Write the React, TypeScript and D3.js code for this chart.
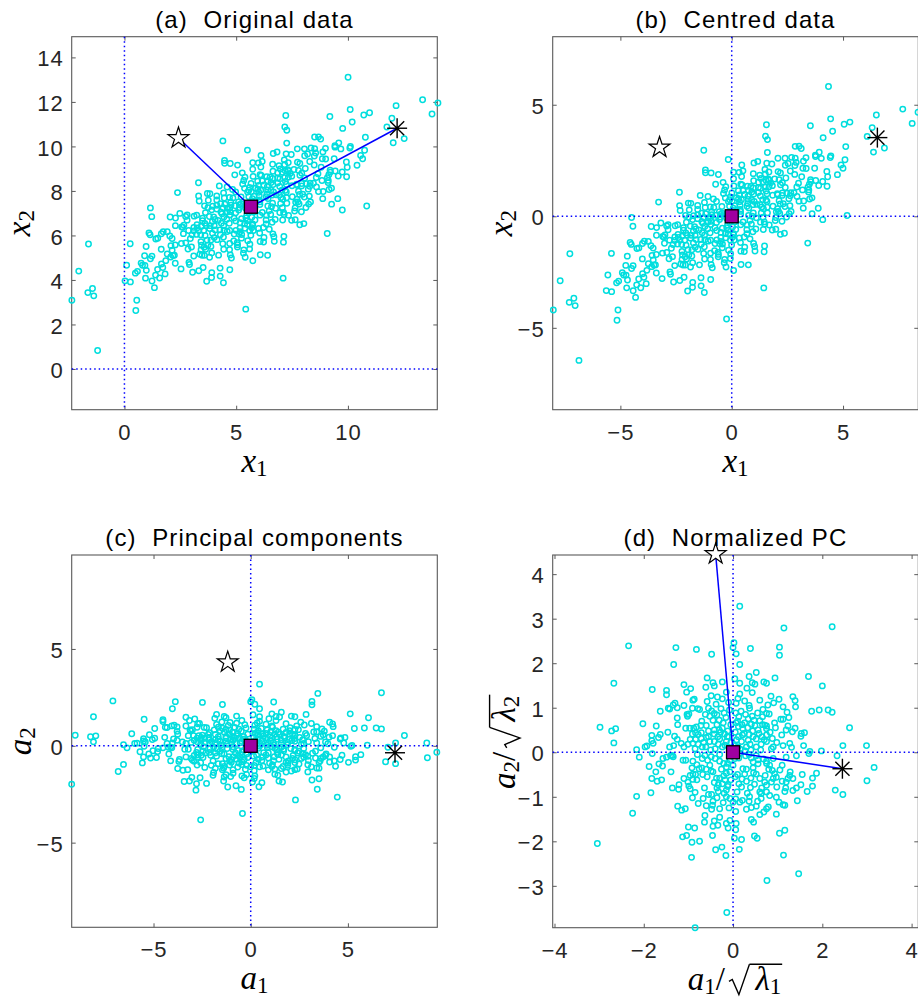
import React, { useEffect, useRef } from 'react';
import * as d3 from 'd3';

const W = 918;
const H = 999;

// PCA quantities
const MEAN: [number, number] = [5.66, 7.29];
const THETA_DEG = 31.1; // rotation of the first principal axis
const SQRT_LAMBDA: [number, number] = [3.03, 0.97];

// Observations read in normalized principal-component coordinates (panel d)
const pcUpperRight: [number, number][] = [
  [0.15,3.28],[1.14,2.79],[2.22,2.82],[0.02,2.46],[0.0,2.35],[0.07,2.21],[0.39,2.33],[1.04,2.36],[1.04,2.18],[0.15,1.97],
  [1.69,1.70],[2.0,1.49],[0.04,1.65],[0.36,1.70],[0.52,1.79],[0.43,1.56],[0.49,1.53],[0.69,1.58],[0.75,1.55],[0.94,1.67],
  [0.15,1.55],[0.31,1.44],[0.43,1.34],[0.15,1.31],[0.11,1.21],[0.26,1.15],[0.07,1.10],[0.36,1.05],[0.37,0.99],[0.60,1.17],
  [0.85,1.26],[0.78,1.06],[0.91,1.11],[1.03,1.19],[1.34,1.25],[1.39,1.16],[1.40,1.02],[1.12,1.02],[1.21,0.90],[0.67,0.96],
  [0.75,0.87],[0.81,0.86],[0.66,0.80],[0.60,0.71],[0.43,0.81],[0.34,0.75],[0.13,0.80],[0.07,0.66],[0.26,0.66],[0.41,0.63],
  [1.76,0.92],[1.93,0.95],[2.13,0.95],[2.22,0.90],[2.61,0.55],[1.07,0.74],[1.12,0.74],[1.25,0.78],[0.93,0.66],[1.23,0.59],
  [1.39,0.54],[1.19,0.50],[1.33,0.46],[1.09,0.39],[1.12,0.15],[1.53,0.42],[1.60,0.44],[1.52,0.36],[1.58,0.15],[1.27,0.20],
  [1.31,0.11],[0.75,0.59],[0.71,0.61],[0.75,0.53],[0.49,0.60],[0.56,0.50],[0.75,0.39],[0.88,0.31],[0.90,0.12],[0.75,0.24],
  [0.63,0.18],[0.45,0.35],[0.34,0.27],[0.21,0.39],[0.11,0.12],[0.52,0.12],[1.98,0.03],[2.46,0.15],[2.99,0.15],[1.72,0.02],
  [0.22,0.53],[0.30,0.12],[0.19,0.24],[0.05,0.45],[0.12,0.58],[0.18,0.92],[0.25,0.42],[0.28,0.85],[0.33,0.55],[0.38,0.18],
  [0.47,0.72],[0.52,0.30],[0.55,0.88],[0.58,0.42],[0.62,0.05],[0.66,0.62],[0.70,0.28],[0.83,0.45],[0.86,0.08],[0.95,0.55],
  [0.98,0.22],[0.08,0.28],[0.16,0.07],[0.27,0.03],[0.44,0.48],[0.06,0.88],[0.12,0.35],[0.04,0.15],[0.20,0.62],[0.36,0.40],
  [0.10,0.70],[0.65,0.35],[0.40,0.05],
];

const pcUpperLeft: [number, number][] = [
  [-2.34,2.39],[-1.28,2.35],[-0.82,2.31],[-0.48,2.20],[-1.33,1.97],[-2.67,1.55],[-1.81,1.41],[-1.49,1.39],[-1.49,1.29],[-1.10,1.52],
  [-1.04,1.35],[-0.95,1.43],[-0.58,1.67],[-0.61,1.46],[-0.45,1.56],[-0.42,1.49],[-0.24,1.58],[-0.49,1.27],[-0.35,1.24],[-0.24,1.20],
  [-2.98,0.56],[-2.72,0.48],[-2.63,0.53],[-2.67,0.21],[-2.02,0.64],[-1.72,0.59],[-1.82,0.38],[-1.63,0.40],[-1.67,0.33],[-1.82,0.26],
  [-1.79,0.20],[-1.93,0.14],[-1.97,0.12],[-2.16,0.06],[-1.45,0.99],[-1.42,0.97],[-1.34,1.06],[-1.30,1.10],[-1.25,1.00],[-1.63,0.92],
  [-1.25,0.77],[-1.24,0.62],[-1.46,0.45],[-1.31,0.36],[-1.25,0.29],[-1.16,0.20],[-1.42,0.12],[-1.33,0.15],[-1.10,1.05],[-1.03,0.85],
  [-1.02,0.81],[-0.99,0.86],[-0.91,0.99],[-0.90,1.17],[-0.87,1.19],[-0.79,0.98],[-0.75,0.96],[-0.58,1.14],[-0.55,0.99],[-0.48,0.93],
  [-0.42,0.87],[-0.36,0.84],[-0.31,0.72],[-0.52,0.81],[-0.16,0.78],[-1.06,0.54],[-0.97,0.54],[-0.88,0.54],[-0.82,0.57],[-0.72,0.60],
  [-0.60,0.60],[-0.91,0.41],[-0.84,0.44],[-0.71,0.44],[-0.96,0.29],[-0.84,0.29],[-0.71,0.31],[-0.55,0.35],[-0.90,0.20],[-0.78,0.18],
  [-0.69,0.12],[-0.42,0.50],[-0.31,0.50],[-0.24,0.54],[-0.42,0.41],[-0.34,0.35],[-0.19,0.41],[-0.13,0.35],[-0.42,0.24],[-0.33,0.18],
  [-0.15,0.24],[-0.24,0.12],[-0.60,0.33],[-0.52,0.24],[-0.61,0.12],[-1.10,0.12],[-1.01,0.18],[-0.05,0.62],[-0.08,0.95],[-0.12,0.48],
  [-0.18,0.16],[-0.22,0.66],[-0.27,0.98],[-0.30,0.30],[-0.36,0.62],[-0.40,0.08],[-0.45,0.72],[-0.55,0.48],[-0.62,0.85],[-0.66,0.22],
  [-0.70,0.70],[-0.78,0.40],[-0.85,0.08],[-0.05,0.22],[-0.10,1.12],[-0.20,0.88],[-0.08,0.05],[-0.28,0.45],[-0.15,1.35],[-0.38,1.08],
  [-0.10,0.35],[-0.50,0.05],
];

const pcLowerLeft: [number, number][] = [
  [-2.10,-0.11],[-1.81,-0.03],[-1.88,-0.32],[-1.66,-0.26],[-1.57,-0.14],[-1.49,-0.11],[-1.40,-0.08],[-1.36,-0.07],[-1.34,-0.10],[-1.58,-0.31],
  [-1.73,-0.44],[-1.82,-0.59],[-1.70,-0.65],[-1.60,-0.62],[-1.39,-0.44],[-1.36,-0.80],[-1.22,-0.83],[-1.21,-0.73],[-2.16,-0.99],[-1.84,-0.91],
  [-2.25,-1.37],[-3.04,-2.05],[-1.24,-1.21],[-1.15,-1.30],[-1.07,-1.27],[-1.0,-1.68],[-0.86,-1.70],[-1.13,-1.90],[-1.04,-1.87],[-0.92,-2.02],
  [-0.75,-2.0],[-0.93,-2.36],[-0.39,-2.19],[-0.25,-2.13],[-0.16,-2.32],[-0.63,-1.42],[-0.64,-1.57],[-0.45,-1.66],[-0.34,-1.64],[-0.46,-1.87],
  [-0.42,-1.54],[-0.30,-1.46],[-0.48,-1.28],[-0.46,-1.19],[-0.30,-1.27],[-0.09,-1.25],[-0.15,-1.60],[-0.07,-1.53],[-0.11,-1.70],[-0.22,-1.13],
  [-0.67,-1.04],[-0.55,-0.95],[-0.91,-1.02],[-0.36,-1.02],[-0.15,-1.0],[-0.33,-0.88],[-0.36,-0.80],[-0.33,-0.73],[-0.24,-0.71],[-0.12,-0.77],
  [-0.99,-0.76],[-1.01,-0.67],[-0.96,-0.82],[-1.10,-0.59],[-0.90,-0.61],[-0.81,-0.62],[-0.96,-0.52],[-0.90,-0.49],[-0.84,-0.50],[-1.12,-0.18],
  [-1.06,-0.18],[-0.90,-0.20],[-0.81,-0.28],[-0.76,-0.37],[-0.70,-0.35],[-0.60,-0.38],[-0.52,-0.29],[-0.49,-0.42],[-0.45,-0.44],[-0.69,-0.14],
  [-0.63,-0.07],[-0.57,-0.18],[-0.49,-0.10],[-0.40,-0.14],[-0.30,-0.20],[-0.21,-0.25],[-0.15,-0.33],[-0.07,-0.18],[-0.37,-0.58],[-0.30,-0.58],
  [-0.21,-0.53],[-0.15,-0.47],[-0.07,-0.44],[-0.11,-0.73],[-0.07,-1.04],[-0.85,-3.94],[-0.14,-3.60],[-0.05,-0.62],[-0.20,-0.92],[-0.26,-0.38],
  [-0.30,-0.05],[-0.42,-0.68],[-0.48,-0.95],[-0.58,-0.55],[-0.64,-0.80],[-0.80,-0.05],[-0.85,-0.90],[-0.92,-0.35],[-0.12,-0.25],[-0.45,-1.10],
  [-0.60,-1.20],[-0.78,-1.15],[-0.15,-0.85],[-0.05,-0.08],[-0.18,-0.62],[-0.68,-0.50],
];

const pcLowerRight: [number, number][] = [
  [2.33,-0.08],[3.16,-0.34],[3.0,-0.64],[2.29,-0.85],[2.46,-0.95],[1.87,-0.47],[1.78,-0.58],[1.78,-0.76],[1.66,-0.88],[1.52,-0.73],
  [1.55,-0.50],[1.34,-0.59],[1.28,-0.44],[1.27,-0.52],[1.34,-0.86],[1.44,-1.09],[1.16,-1.19],[1.12,-1.18],[0.97,-1.39],[1.04,-1.82],
  [1.16,-1.75],[1.13,-2.31],[1.47,-2.73],[0.76,-2.88],[0.48,-1.88],[0.54,-1.93],[0.41,-1.51],[0.46,-1.57],[0.14,-2.18],[0.19,-1.96],
  [0.03,-1.93],[0.06,-1.74],[0.07,-1.60],[0.6,-1.40],[0.69,-1.34],[0.75,-1.27],[0.79,-1.23],[0.52,-1.21],[0.41,-1.24],[0.30,-1.28],
  [0.36,-1.10],[0.37,-1.0],[0.21,-1.08],[0.15,-1.12],[0.06,-1.33],[0.63,-1.04],[0.63,-0.93],[0.60,-0.89],[0.75,-0.89],[0.82,-0.97],
  [0.97,-1.01],[1.03,-1.12],[1.18,-0.80],[1.16,-0.88],[1.42,-0.80],[0.09,-0.89],[0.13,-0.71],[0.19,-0.78],[0.39,-0.79],[0.60,-0.59],
  [0.71,-0.67],[0.75,-0.74],[0.86,-0.67],[0.90,-0.59],[0.97,-0.56],[1.10,-0.65],[1.19,-0.67],[1.23,-0.59],[0.22,-0.37],[0.30,-0.38],
  [0.26,-0.49],[0.46,-0.46],[0.52,-0.49],[0.45,-0.35],[0.56,-0.26],[0.45,-0.22],[0.75,-0.25],[0.82,-0.29],[0.88,-0.41],[0.93,-0.48],
  [1.10,-0.29],[1.19,-0.11],[1.42,-0.08],[0.04,-0.14],[0.13,-0.13],[0.28,-0.08],[0.41,-0.13],[0.56,-0.17],[0.75,-0.20],[0.90,-0.14],
  [1.70,-0.03],[0.0,-0.29],[0.0,-1.12],[0.10,-0.50],[0.15,-0.02],[0.20,-0.60],[0.32,-0.92],[0.36,-0.05],[0.40,-0.58],[0.48,-0.72],
  [0.52,-0.08],[0.64,-0.80],[0.68,-0.15],[0.72,-0.52],[0.80,-0.38],[0.98,-0.78],[0.06,-1.05],[0.55,-1.10],[1.05,-0.40],[0.05,-0.55],
  [0.30,-0.65],
];

const normalizedPC: [number, number][] = [...pcUpperRight, ...pcUpperLeft, ...pcLowerLeft, ...pcLowerRight];

// Highlighted observations (normalized PC coordinates)
const STAR_PT: [number, number] = [-0.39, 4.45];
const ASTERISK_PT: [number, number] = [2.45, -0.37];

// Transforms between the coordinate systems of the four panels
const TH = (THETA_DEG * Math.PI) / 180;
const toPC = (p: [number, number]): [number, number] => [p[0] * SQRT_LAMBDA[0], p[1] * SQRT_LAMBDA[1]];
const toCentred = (p: [number, number]): [number, number] => {
  const c = toPC(p);
  return [Math.cos(TH) * c[0] - Math.sin(TH) * c[1], Math.sin(TH) * c[0] + Math.cos(TH) * c[1]];
};
const toOriginal = (p: [number, number]): [number, number] => {
  const b = toCentred(p);
  return [b[0] + MEAN[0], b[1] + MEAN[1]];
};
const toNorm = (p: [number, number]): [number, number] => p;

type Piece = { t: string; italic?: boolean; sub?: boolean } | { sqrt: Piece[] };

const X1: Piece[] = [{ t: 'x', italic: true }, { t: '1', sub: true }];
const X2: Piece[] = [{ t: 'x', italic: true }, { t: '2', sub: true }];
const A1: Piece[] = [{ t: 'a', italic: true }, { t: '1', sub: true }];
const A2: Piece[] = [{ t: 'a', italic: true }, { t: '2', sub: true }];
const A1N: Piece[] = [...A1, { t: '/' }, { sqrt: [{ t: 'λ', italic: true }, { t: '1', sub: true }] }];
const A2N: Piece[] = [...A2, { t: '/' }, { sqrt: [{ t: 'λ', italic: true }, { t: '2', sub: true }] }];

const PANELS = [
  {
    title: '(a)  Original data', left: 71.7, right: 437.3, top: 36.7, bottom: 409.7,
    xDom: [-2.36, 14.0], yDom: [-1.83, 14.93], xTicks: [0, 5, 10], yTicks: [0, 2, 4, 6, 8, 10, 12, 14],
    map: toOriginal, centre: MEAN, lines: true, xLab: X1, yLab: X2, yLabX: 30,
  },
  {
    title: '(b)  Centred data', left: 552.7, right: 918.3, top: 36.7, bottom: 409.7,
    xDom: [-8.04, 8.38], yDom: [-8.67, 8.05], xTicks: [-5, 0, 5], yTicks: [-5, 0, 5],
    map: toCentred, centre: [0, 0], lines: false, xLab: X1, yLab: X2, yLabX: 512,
  },
  {
    title: '(c)  Principal components', left: 71.7, right: 437.3, top: 555, bottom: 927.3,
    xDom: [-9.21, 9.6], yDom: [-9.37, 9.85], xTicks: [-5, 0, 5], yTicks: [-5, 0, 5],
    map: toPC, centre: [0, 0], lines: false, xLab: A1, yLab: A2, yLabX: 31,
  },
  {
    title: '(d)  Normalized PC', left: 552.7, right: 918.3, top: 555, bottom: 927.7,
    xDom: [-4.04, 4.15], yDom: [-3.94, 4.43], xTicks: [-4, -2, 0, 2, 4], yTicks: [-3, -2, -1, 0, 1, 2, 3, 4],
    map: toNorm, centre: [0, 0], lines: true, xLab: A1N, yLab: A2N, yLabX: 515,
  },
];

const AXIS = '#262626';
const BOX = '#5a5a5a';
const CYAN = '#00DEDE';
const BLUE = '#0000FF';
const SANS = '"Liberation Sans", Arial, Helvetica, sans-serif';
const SERIF = '"Liberation Serif", "Times New Roman", serif';
const fmt = (v: number) => (v < 0 ? '\u2212' + Math.abs(v) : String(v));

function drawMath(parent: any, pieces: Piece[], x: number, y: number, rotate: boolean) {
  const g = parent.append('g').attr('transform', `translate(${x},${y})${rotate ? ' rotate(-90)' : ''}`);
  const inner = g.append('g');
  const EM = 33, SUB = 23, SUBDY = 4;
  let cur = 0;
  const put = (p: Piece) => {
    if ('sqrt' in p) {
      const x0 = cur + 2;
      const topY = -0.77 * EM;
      inner.append('path')
        .attr('d', `M${x0},${-0.25 * EM} L${x0 + 0.1 * EM},${-0.31 * EM} L${x0 + 0.3 * EM},${0.15 * EM} L${x0 + 0.62 * EM},${topY}`)
        .attr('fill', 'none').attr('stroke', '#000').attr('stroke-width', 1.4).attr('stroke-linejoin', 'miter');
      cur = x0 + 0.8 * EM;
      p.sqrt.forEach(put);
      inner.append('line').attr('x1', x0 + 0.62 * EM).attr('x2', cur + 1).attr('y1', topY).attr('y2', topY)
        .attr('stroke', '#000').attr('stroke-width', 1.4);
      cur += 2;
    } else {
      const tx = inner.append('text')
        .attr('x', cur).attr('y', p.sub ? SUBDY : 0)
        .style('font-family', SERIF).style('font-size', `${p.sub ? SUB : EM}px`)
        .style('font-style', p.italic ? 'italic' : 'normal')
        .attr('fill', '#000').text(p.t);
      cur += (tx.node() as SVGTextElement).getComputedTextLength() + (p.t === '/' ? 2 : 0);
    }
  };
  pieces.forEach(put);
  inner.attr('transform', `translate(${-cur / 2},0)`);
}

function drawPanel(svg: any, p: any) {
  const x = d3.scaleLinear().domain(p.xDom).range([p.left, p.right]);
  const y = d3.scaleLinear().domain(p.yDom).range([p.bottom, p.top]);
  const g = svg.append('g');

  // axes (box on, ticks pointing inwards)
  const styleAxis = (ax: any) => {
    ax.select('.domain').remove();
    ax.selectAll('.tick line').attr('stroke', BOX).attr('stroke-width', 1);
    ax.selectAll('.tick text').attr('fill', AXIS).style('font-family', SANS).style('font-size', '22px').style('letter-spacing', '1px');
  };
  const bottom = g.append('g').attr('transform', `translate(0,${p.bottom})`)
    .call(d3.axisBottom(x).tickValues(p.xTicks).tickSize(-4).tickPadding(14.5).tickFormat((v: any) => fmt(v)));
  styleAxis(bottom);
  const top = g.append('g').attr('transform', `translate(0,${p.top})`)
    .call(d3.axisTop(x).tickValues(p.xTicks).tickSize(-4).tickFormat(() => ''));
  styleAxis(top);
  const left = g.append('g').attr('transform', `translate(${p.left},0)`)
    .call(d3.axisLeft(y).tickValues(p.yTicks).tickSize(-4).tickPadding(8).tickFormat((v: any) => fmt(v)));
  styleAxis(left);
  left.selectAll('.tick text').attr('dy', '0.39em');
  const right = g.append('g').attr('transform', `translate(${p.right},0)`)
    .call(d3.axisRight(y).tickValues(p.yTicks).tickSize(-4).tickFormat(() => ''));
  styleAxis(right);

  g.append('rect').attr('x', p.left).attr('y', p.top).attr('width', p.right - p.left).attr('height', p.bottom - p.top)
    .attr('fill', 'none').attr('stroke', BOX).attr('stroke-width', 1.1);

  // data
  const pts = normalizedPC.map(p.map);
  g.append('g').selectAll('circle').data(pts).join('circle')
    .attr('cx', (d: any) => x(d[0])).attr('cy', (d: any) => y(d[1])).attr('r', 2.7)
    .attr('fill', 'none').attr('stroke', CYAN).attr('stroke-width', 1.5);

  // zero lines
  g.append('line').attr('x1', x(0)).attr('x2', x(0)).attr('y1', p.top).attr('y2', p.bottom)
    .attr('stroke', BLUE).attr('stroke-width', 1.5).attr('stroke-dasharray', '1.5 3');
  g.append('line').attr('x1', p.left).attr('x2', p.right).attr('y1', y(0)).attr('y2', y(0))
    .attr('stroke', BLUE).attr('stroke-width', 1.5).attr('stroke-dasharray', '1.5 3');

  const star = p.map(STAR_PT);
  const ast = p.map(ASTERISK_PT);
  const c = p.centre;
  if (p.lines) {
    const line = d3.line<[number, number]>().x((d) => x(d[0])).y((d) => y(d[1]));
    g.append('path').attr('d', line([star, c])).attr('fill', 'none').attr('stroke', BLUE).attr('stroke-width', 1.5);
    g.append('path').attr('d', line([c, ast])).attr('fill', 'none').attr('stroke', BLUE).attr('stroke-width', 1.5);
  }

  // mean marker
  const S = 13;
  g.append('rect').attr('x', x(c[0]) - S / 2).attr('y', y(c[1]) - S / 2).attr('width', S).attr('height', S)
    .attr('fill', '#A000A0').attr('stroke', '#000').attr('stroke-width', 1.3);

  // pentagram
  const R = 11, r = R * 0.382;
  const starPts = d3.range(10).map((k) => {
    const a = -Math.PI / 2 + (k * Math.PI) / 5;
    const rr = k % 2 === 0 ? R : r;
    return [x(star[0]) + rr * Math.cos(a), y(star[1]) + rr * Math.sin(a)];
  });
  g.append('path').attr('d', 'M' + starPts.map((q) => q.join(',')).join('L') + 'Z')
    .attr('fill', '#fff').attr('stroke', '#000').attr('stroke-width', 1.2).attr('stroke-linejoin', 'miter');

  // asterisk
  const ax0 = x(ast[0]), ay0 = y(ast[1]), L = 10;
  [0, 45, 90, 135].forEach((deg) => {
    const a = (deg * Math.PI) / 180;
    g.append('line').attr('x1', ax0 - L * Math.cos(a)).attr('y1', ay0 - L * Math.sin(a))
      .attr('x2', ax0 + L * Math.cos(a)).attr('y2', ay0 + L * Math.sin(a))
      .attr('stroke', '#000').attr('stroke-width', 1.4);
  });
  g.append('circle').attr('cx', ax0).attr('cy', ay0).attr('r', 1.8).attr('fill', '#000');

  // title
  g.append('text').attr('x', (p.left + p.right) / 2).attr('y', p.top - 9).attr('text-anchor', 'middle')
    .style('font-family', SANS).style('font-size', '24px').style('letter-spacing', '1.1px').style('white-space', 'pre')
    .attr('fill', '#000').text(p.title);

  // axis labels
  drawMath(g, p.xLab, (p.left + p.right) / 2, p.bottom + 62, false);
  drawMath(g, p.yLab, p.yLabX, (p.top + p.bottom) / 2, true);
}

export default function App() {
  const ref = useRef<SVGSVGElement>(null);
  useEffect(() => {
    const svg = d3.select(ref.current);
    svg.selectAll('*').remove();
    svg.append('rect').attr('width', W).attr('height', H).attr('fill', '#fff');
    PANELS.forEach((p) => drawPanel(svg, p));
  }, []);
  return (
    <svg ref={ref} width={W} height={H} style={{ position: 'absolute', left: 0, top: 0, display: 'block' }} />
  );
}
